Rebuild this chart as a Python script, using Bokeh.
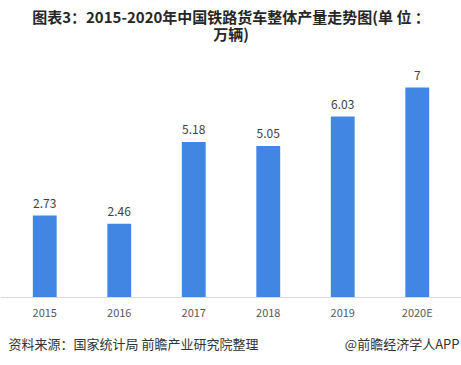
from bokeh.plotting import figure
from bokeh.models import Range1d, Label, ColumnDataSource
from bokeh.core.properties import value
from bokeh.embed import file_html
from bokeh.resources import INLINE

categories = ["2015", "2016", "2017", "2018", "2019", "2020E"]
production = [2.73, 2.46, 5.18, 5.05, 6.03, 7]
value_labels = ["2.73", "2.46", "5.18", "5.05", "6.03", "7"]
title_line1 = "图表3：2015-2020年中国铁路货车整体产量走势图(单 位 ："
title_line2 = "万辆)"
source_text = "资料来源：国家统计局 前瞻产业研究院整理"
brand_text = "@前瞻经济学人APP"

FONT = "Noto Sans CJK SC"
W, H = 461, 365

src = ColumnDataSource(dict(cat=categories, val=production, lab=value_labels))

p = figure(x_range=categories, y_range=Range1d(-68 / 30, 297 / 30), width=W, height=H,
           output_backend="svg", toolbar_location=None, y_axis_location=None,
           min_border=0, min_border_left=0, min_border_right=0,
           min_border_top=0, min_border_bottom=0)
p.x_range.range_padding = 0.094
p.x_range.range_padding_units = "absolute"
p.outline_line_color = None
p.xgrid.visible = False
p.ygrid.visible = False
p.background_fill_color = "white"
p.border_fill_color = "white"

p.vbar(x="cat", top="val", width=0.32, source=src, color="#4186e2", line_color=None)
p.text(x="cat", y="val", text="lab", source=src, y_offset=-8,
       text_align="center", text_baseline="bottom",
       text_font=value(FONT), text_font_size="12px", text_color="#404040")

ax = p.xaxis[0]
ax.fixed_location = 0
ax.axis_line_color = "#d9d9d9"
ax.major_tick_line_color = None
ax.minor_tick_line_color = None
ax.major_label_text_font = FONT
ax.major_label_text_font_size = "11px"
ax.major_label_text_color = "#595959"
ax.major_label_standoff = 0

for txt, y in [(title_line1, H - 16), (title_line2, H - 33)]:
    p.add_layout(Label(x=W / 2, y=y, x_units="screen", y_units="screen", text=txt,
                       text_align="center", text_baseline="middle",
                       text_font=FONT, text_font_size="15px", text_font_style="bold",
                       text_color="#262626"))

p.add_layout(Label(x=8, y=H - 343, x_units="screen", y_units="screen", text=source_text,
                   text_align="left", text_baseline="middle",
                   text_font=FONT, text_font_size="13px", text_color="#333333"))
p.add_layout(Label(x=459, y=H - 343, x_units="screen", y_units="screen", text=brand_text,
                   text_align="right", text_baseline="middle",
                   text_font=FONT, text_font_size="13px", text_color="#333333"))

open("out.html", "w").write(file_html(p, INLINE))
